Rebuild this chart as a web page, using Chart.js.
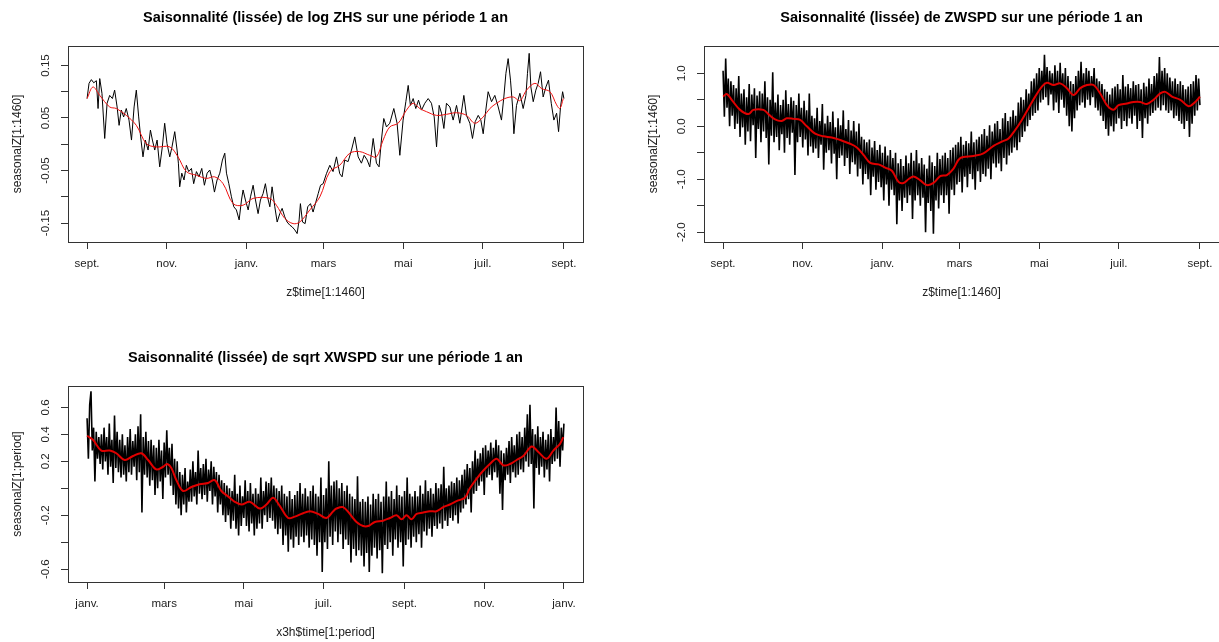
<!DOCTYPE html>
<html lang="fr">
<head>
<meta charset="utf-8">
<title>Saisonnalité lissée</title>
<script src="https://cdn.jsdelivr.net/npm/chart.js@4.4.1/dist/chart.umd.min.js"></script>
<style>
  html, body { margin: 0; padding: 0; background: #fff; overflow: hidden; width: 1219px; height: 642px; }
  canvas { position: absolute; }
  #zhs-chart   { left: 0;     top: 0; }
  #zwspd-chart { left: 636px; top: 0; }
  #xwspd-chart { left: 0;     top: 340px; }
</style>
</head>
<body>
<canvas id="zhs-chart" width="609" height="321"></canvas>
<canvas id="zwspd-chart" width="609" height="321"></canvas>
<canvas id="xwspd-chart" width="609" height="321"></canvas>

<script>
// ----------------------------------------------------------------
// Data — x is the day of the seasonal year (0 … 365)
// ----------------------------------------------------------------

// Month ticks, year starting in September (top row)
const septMonthDays   = [0, 61, 122, 181, 242, 303, 365];
const septMonthLabels = ["sept.", "nov.", "janv.", "mars", "mai", "juil.", "sept."];

// Month ticks, calendar year (bottom panel)
const janvMonthDays   = [0, 59, 120, 181, 243, 304, 365];
const janvMonthLabels = ["janv.", "mars", "mai", "juil.", "sept.", "nov.", "janv."];

// y ticks (R only printed every other label where they would collide)
const zhsTicks        = [-0.15, -0.10, -0.05, 0, 0.05, 0.10, 0.15];
const zhsTickLabels   = ["-0.15", "", "-0.05", "", "0.05", "", "0.15"];
const zwspdTicks      = [-2, -1.5, -1, -0.5, 0, 0.5, 1];
const zwspdTickLabels = ["-2.0", "", "-1.0", "", "0.0", "", "1.0"];
const xwspdTicks      = [-0.6, -0.4, -0.2, 0, 0.2, 0.4, 0.6];
const xwspdTickLabels = ["-0.6", "", "-0.2", "", "0.2", "0.4", "0.6"];

// log ZHS seasonal component: [day, value]
const zhsRaw = [
  [0,0.087],[1.5,0.116],[3.3,0.123],[5.1,0.117],[7.1,0.121],[8.4,0.068],[9.7,0.125],[11.4,0.097],[13.5,0.011],[15.3,0.078],
  [17.3,0.093],[19.4,0.087],[21.1,0.103],[23,0.071],[24.5,0.036],[26.2,0.065],[28,0.052],[30,0.068],[32.1,0.046],[34,0.008],
  [36,0.071],[37.7,0.103],[39.5,0.052],[41,0.014],[42.8,-0.024],[44.6,0.008],[46.7,-0.011],[48.5,0.027],[50,0.008],[51.8,-0.011],
  [53.6,0.008],[55.6,-0.043],[57.6,-0.005],[59.4,0.040],[61.2,0.001],[63.3,-0.024],[65,-0.005],[67.1,0.024],[68.9,-0.011],[69.9,-0.036],
  [70.9,-0.081],[72.5,-0.055],[74.2,-0.068],[76,-0.040],[77.8,-0.052],[79.9,-0.046],[81.6,-0.075],[83.7,-0.052],[85.7,-0.062],[87.8,-0.046],
  [89.8,-0.078],[91.9,-0.055],[93.9,-0.049],[95.9,-0.068],[97.5,-0.091],[99.5,-0.068],[101.6,-0.055],[103.6,-0.030],[105.4,-0.017],[106.7,-0.055],
  [108.5,-0.075],[110.5,-0.100],[112.3,-0.119],[114.3,-0.125],[116.4,-0.144],[118.2,-0.106],[119.4,-0.087],[121.2,-0.106],[123.3,-0.125],[125.1,-0.100],
  [127.1,-0.078],[128.9,-0.106],[130.9,-0.132],[132.7,-0.106],[134.7,-0.094],[136.5,-0.075],[138.1,-0.100],[139.9,-0.119],[141.6,-0.081],[143.7,-0.119],
  [145.5,-0.148],[147.5,-0.132],[149.3,-0.122],[151.3,-0.138],[153.1,-0.148],[155.2,-0.154],[156.9,-0.157],[159,-0.163],[160.8,-0.170],[162.3,-0.144],
  [163.3,-0.113],[164.9,-0.148],[166.9,-0.151],[168.9,-0.119],[171,-0.113],[173,-0.129],[175.1,-0.110],[176.9,-0.094],[178.7,-0.078],[180.7,-0.075],
  [183.2,-0.056],[185.8,-0.040],[188.3,-0.052],[190.9,-0.024],[193.4,-0.056],[195.2,-0.062],[197.2,-0.030],[199.8,-0.033],[202.4,-0.011],[204.9,0.014],
  [207.5,-0.024],[210,-0.036],[212.1,-0.021],[214.4,-0.030],[216.4,-0.043],[219,0.011],[221.5,-0.036],[223.5,-0.043],[225.3,0.008],[227.1,0.049],
  [229.2,0.033],[231.7,0.040],[234.8,0.068],[237.3,0.040],[239.4,-0.021],[241.9,0.046],[244,0.081],[245.8,0.112],[247.5,0.074],[249.6,0.087],
  [251.6,0.068],[253.7,0.084],[256,0.065],[258.5,0.078],[261.1,0.087],[263.6,0.078],[265.7,0.052],[267.5,-0.005],[269.5,0.074],[271.3,0.059],
  [273.1,0.030],[275.1,0.078],[277.7,0.071],[280.2,0.046],[282.8,0.074],[285.3,0.040],[288.4,0.093],[290.4,0.055],[293,0.040],[295,0.011],
  [297.1,0.043],[299.4,0.055],[301.4,0.046],[303.2,0.020],[305.2,0.065],[307,0.100],[309.6,0.081],[312.1,0.093],[314.7,0.071],[317.2,0.046],
  [319,0.090],[320.6,0.135],[322.3,0.163],[324.1,0.122],[325.7,0.071],[326.7,0.020],[328.7,0.074],[331.3,0.097],[333.8,0.068],[335.9,0.093],
  [337.1,0.135],[338.4,0.173],[339.7,0.109],[341.5,0.081],[343.5,0.103],[345.3,0.116],[347.1,0.138],[349.1,0.090],[351.2,0.109],[353.2,0.122],
  [355.3,0.078],[357.3,0.046],[359.4,0.059],[360.9,0.024],[362.4,0.071],[364,0.100],[365,0.087]
];

// log ZHS smoothed
const zhsSmooth = [
  [0,0.087],[4.5,0.109],[9.7,0.093],[17.3,0.071],[22.4,0.068],[30,0.055],[37.7,0.036],[45.4,0.001],[53,-0.005],[63.3,-0.005],
  [69.6,-0.024],[76,-0.052],[83.7,-0.059],[91.3,-0.065],[97.7,-0.062],[104.1,-0.075],[111.8,-0.113],[119.4,-0.116],[127.1,-0.103],[139.9,-0.103],
  [144.9,-0.116],[151.3,-0.141],[157.7,-0.151],[162.8,-0.148],[170.5,-0.125],[178.2,-0.100],[185.8,-0.052],[193.4,-0.040],[201.1,-0.017],[208.7,-0.014],
  [216.4,-0.021],[221.5,-0.024],[226.6,0.008],[231.7,0.033],[238.1,0.040],[244.5,0.065],[249.6,0.078],[254.7,0.068],[259.8,0.062],[267.5,0.055],
  [275.1,0.057],[282.8,0.060],[290.4,0.055],[296.8,0.040],[303.2,0.052],[308.3,0.068],[313.4,0.078],[319.8,0.087],[326.2,0.090],[331.3,0.083],
  [336.4,0.103],[342.8,0.116],[347.9,0.106],[354.3,0.100],[359.4,0.075],[361.9,0.068],[364.5,0.087]
];

// ZWSPD seasonal component, one value per day
const zwspdDaily = [
  1.05,0.18,1.28,0.35,0.9,0.0,0.85,0.2,0.78,-0.05,
  0.72,0.05,0.95,-0.2,0.62,-0.02,0.7,-0.35,0.55,-0.1,
  0.8,-0.28,0.6,0.02,0.72,-0.6,0.58,-0.05,0.66,-0.3,
  0.62,-0.1,0.85,-0.22,0.55,-0.72,0.5,-0.18,1.02,-0.3,
  0.45,-0.2,0.6,-0.45,0.4,-0.15,0.5,-0.5,0.68,-0.22,
  0.42,-0.35,0.55,-0.12,0.48,-0.92,0.4,-0.3,0.62,-0.2,
  0.35,-0.4,0.48,-0.25,0.3,-0.55,0.62,-0.38,0.2,-0.5,
  0.15,-0.42,0.35,-0.6,0.1,-0.35,0.42,-0.82,0.05,-0.5,
  0.2,-0.45,0.08,-0.7,0.28,-0.52,-0.02,-1.0,0.15,-0.6,
  0.02,-0.55,0.3,-0.75,-0.05,-0.6,0.12,-0.9,-0.08,-0.68,
  0.1,-0.72,-0.1,-0.95,0.05,-0.8,-0.2,-1.1,-0.25,-0.9,
  -0.3,-1.0,-0.25,-1.3,-0.4,-0.95,-0.28,-1.2,-0.45,-1.05,
  -0.35,-1.15,-0.5,-1.4,-0.38,-1.1,-0.55,-1.5,-0.45,-1.2,
  -0.6,-1.3,-0.5,-1.85,-0.7,-1.4,-0.62,-1.6,-0.75,-1.35,
  -0.55,-1.45,-0.7,-1.3,-0.5,-1.75,-0.65,-1.4,-0.45,-1.3,
  -0.7,-1.5,-0.6,-1.35,-0.72,-2.0,-0.8,-1.45,-0.55,-1.6,
  -0.68,-2.03,-0.75,-1.4,-0.5,-1.55,-0.62,-1.3,-0.55,-1.45,
  -0.5,-1.3,-0.6,-1.65,-0.45,-1.2,-0.4,-1.3,-0.35,-1.1,
  -0.3,-1.05,-0.2,-1.25,-0.35,-0.95,-0.28,-1.15,-0.32,-0.9,
  -0.1,-1.0,-0.3,-1.2,-0.25,-0.85,-0.2,-1.05,-0.15,-0.9,
  -0.05,-0.95,-0.18,-0.8,0.02,-1.0,-0.1,-0.7,0.05,-0.78,
  0.1,-0.7,-0.05,-0.85,0.15,-0.6,0.25,-0.72,0.1,-0.55,
  0.18,-0.5,0.3,-0.4,0.2,-0.45,0.45,-0.3,0.55,-0.2,
  0.5,-0.1,0.7,0.0,0.62,0.12,0.85,0.2,0.9,0.25,
  1.0,0.3,1.1,0.45,1.05,0.5,1.35,0.55,1.12,0.4,
  1.05,0.6,1.0,0.3,1.15,0.45,1.05,0.25,1.2,0.5,
  1.0,0.35,1.1,0.2,0.95,0.0,0.85,-0.1,0.8,0.15,
  0.95,0.3,1.05,0.4,1.22,0.45,1.0,0.35,1.1,0.5,
  1.05,0.4,0.95,0.55,1.1,0.35,0.9,0.3,0.85,0.2,
  0.8,0.1,0.7,-0.05,0.65,-0.18,0.6,0.0,0.72,-0.1,
  0.75,0.05,0.8,0.15,0.7,-0.05,0.97,0.1,0.75,0.0,
  0.8,0.15,0.72,0.05,0.85,0.2,0.78,-0.05,0.8,0.1,
  0.7,-0.22,0.82,0.15,0.75,0.05,0.9,0.2,0.8,0.25,
  0.95,0.3,1.0,0.35,1.31,0.3,1.05,0.4,1.1,0.3,
  1.0,0.25,0.92,0.3,0.85,0.15,0.9,0.2,0.8,0.1,
  0.85,0.05,0.78,-0.05,0.7,0.1,0.75,-0.2,0.8,0.05,
  0.85,0.2,0.97,0.3,0.9,0.4
];

// ZWSPD smoothed
const zwspdSmooth = [
  [0,0.56],[2.8,0.61],[6.6,0.5],[13,0.31],[19.4,0.23],[23.2,0.31],[30.9,0.31],[34.7,0.23],[39.8,0.13],[44.9,0.1],
  [48.8,0.15],[53.9,0.14],[59,0.12],[64.1,0.0],[70.5,-0.14],[76.8,-0.19],[83.2,-0.21],[89.6,-0.26],[97.3,-0.33],[102.4,-0.4],
  [107.5,-0.54],[112.6,-0.69],[119,-0.72],[124.1,-0.78],[129.2,-0.84],[134.3,-1.05],[138.1,-1.07],[141.9,-1.0],[145.8,-0.95],[150.9,-1.02],
  [156,-1.11],[161.1,-1.07],[166.2,-0.94],[171.3,-0.92],[176.4,-0.8],[181.5,-0.6],[191.7,-0.56],[199.3,-0.51],[207,-0.37],[213.4,-0.29],
  [218.5,-0.23],[223.6,-0.07],[228.7,0.12],[233.8,0.34],[238.9,0.56],[244,0.75],[247.8,0.82],[253,0.78],[258,0.81],[263.2,0.72],
  [268.3,0.59],[273.4,0.72],[278.5,0.78],[283.6,0.78],[288.7,0.62],[293.8,0.4],[298.9,0.31],[302.7,0.4],[309.1,0.43],[314.2,0.46],
  [319.3,0.46],[324.4,0.42],[329.5,0.5],[334.6,0.62],[338.5,0.65],[343.6,0.56],[350,0.5],[356.3,0.38],[361.4,0.46],[365,0.56]
];

// sqrt XWSPD seasonal component, one value per day
const xwspdDaily = [
  0.52,0.22,0.62,0.72,0.28,0.45,0.05,0.42,0.22,0.38,
  0.18,0.4,0.14,0.45,0.2,0.38,0.1,0.48,0.16,0.36,
  0.04,0.54,0.15,0.42,0.12,0.36,0.08,0.4,0.1,0.32,
  0.05,0.38,0.12,0.44,0.1,0.35,0.16,0.4,0.06,0.46,
  0.12,0.55,-0.18,0.38,0.1,0.42,0.08,0.35,0.02,0.36,
  0.06,0.32,-0.05,0.3,0.0,0.36,0.05,0.28,-0.08,0.34,
  0.08,0.43,0.1,0.3,0.02,0.33,-0.05,0.22,-0.12,0.2,
  -0.15,0.12,-0.2,0.1,-0.12,0.15,-0.18,0.05,-0.1,0.14,
  -0.1,0.2,-0.06,0.12,-0.12,0.28,-0.04,0.15,-0.08,0.18,
  -0.05,0.22,-0.1,0.14,-0.02,0.2,-0.12,0.16,-0.06,0.12,
  -0.18,0.1,-0.12,0.06,-0.2,0.04,-0.25,0.02,-0.2,0.0,
  -0.3,-0.02,-0.24,0.1,-0.3,-0.04,-0.35,0.02,-0.28,-0.06,
  -0.22,0.06,-0.28,-0.02,-0.32,0.04,-0.26,-0.04,-0.35,0.0,
  -0.3,-0.04,-0.26,0.08,-0.3,-0.02,-0.2,0.05,-0.25,0.04,
  -0.22,0.08,-0.24,0.02,-0.3,0.0,-0.34,-0.02,-0.3,0.02,
  -0.42,-0.04,-0.35,-0.06,-0.47,-0.02,-0.38,-0.08,-0.44,-0.05,
  -0.36,-0.02,-0.42,0.04,-0.36,-0.04,-0.4,0.0,-0.35,-0.06,
  -0.44,-0.02,-0.38,0.02,-0.42,-0.04,-0.5,-0.06,-0.4,0.08,
  -0.62,-0.05,-0.4,0.0,-0.45,0.2,-0.36,0.02,-0.42,0.05,
  -0.32,0.06,-0.4,0.0,-0.34,0.04,-0.45,-0.02,-0.38,0.02,
  -0.42,-0.04,-0.55,-0.06,-0.45,-0.08,-0.5,0.09,-0.46,-0.1,
  -0.5,-0.08,-0.58,-0.1,-0.48,-0.06,-0.62,-0.12,-0.5,-0.04,
  -0.44,-0.08,-0.52,-0.04,-0.46,-0.1,-0.63,-0.06,-0.42,0.05,
  -0.45,-0.06,-0.4,-0.02,-0.5,-0.08,-0.38,0.02,-0.44,-0.05,
  -0.4,-0.06,-0.58,-0.02,-0.42,0.08,-0.38,-0.04,-0.44,-0.06,
  -0.36,-0.02,-0.4,-0.06,-0.34,0.02,-0.44,-0.04,-0.32,0.06,
  -0.35,-0.02,-0.3,0.0,-0.36,-0.04,-0.28,0.04,-0.3,0.0,
  -0.26,0.03,-0.3,0.16,-0.24,0.0,-0.28,0.02,-0.22,0.05,
  -0.24,0.04,-0.2,0.08,-0.26,0.06,-0.18,0.1,-0.15,0.14,
  -0.12,0.18,-0.08,0.15,-0.18,0.2,-0.04,0.28,-0.02,0.22,
  0.02,0.26,0.05,0.3,-0.05,0.32,0.08,0.28,0.1,0.34,
  0.06,0.3,0.12,0.36,0.08,0.32,-0.04,0.28,-0.16,0.26,
  0.06,0.3,0.1,0.35,0.04,0.38,0.12,0.32,0.08,0.4,
  0.1,0.42,0.14,0.38,0.12,0.45,0.2,0.55,0.16,0.62,
  0.18,0.44,-0.15,0.4,0.15,0.46,0.1,0.38,0.16,0.42,
  0.08,0.36,0.14,0.4,0.05,0.44,0.18,0.38,0.2,0.6,
  0.22,0.5,0.16,0.45,0.28,0.48
];

// sqrt XWSPD smoothed
const xwspdSmooth = [
  [0,0.39],[4.5,0.36],[10.9,0.28],[17.3,0.28],[22.4,0.26],[28.8,0.21],[35.2,0.24],[41.6,0.26],[46.7,0.21],[53,0.14],
  [58.2,0.16],[61.2,0.18],[64.5,0.15],[68.4,0.06],[73.5,-0.02],[79.9,0.01],[86.2,0.03],[92.6,0.04],[97.7,0.06],[102.8,-0.02],
  [107.9,-0.06],[113,-0.1],[118.2,-0.12],[124.5,-0.1],[132.2,-0.15],[137.3,-0.12],[142.4,-0.07],[147.5,-0.13],[153.9,-0.22],[159,-0.21],
  [164.1,-0.19],[170.5,-0.17],[176.9,-0.19],[183.2,-0.22],[188.4,-0.17],[190.9,-0.15],[196,-0.14],[201.1,-0.19],[206.2,-0.25],[211.3,-0.28],
  [215.2,-0.28],[220.3,-0.25],[226.6,-0.24],[231.8,-0.22],[236.9,-0.2],[240.7,-0.23],[244.5,-0.2],[248.4,-0.23],[252.2,-0.19],[257.3,-0.18],
  [262.4,-0.17],[267.5,-0.17],[272.6,-0.14],[277.7,-0.12],[284.1,-0.09],[289.2,-0.07],[293,0.0],[298.1,0.07],[303.2,0.13],[308.3,0.18],
  [313.5,0.22],[318.6,0.17],[323.7,0.18],[328.8,0.21],[333.9,0.24],[340.3,0.31],[345.4,0.27],[351.7,0.22],[356.9,0.28],[362,0.33],[364.5,0.38]
];


// ----------------------------------------------------------------
// Drawing helpers
// ----------------------------------------------------------------

const FONT = "'Liberation Sans', Arial, Helvetica, sans-serif";
const INK = "#222";

// R-style closed box around the plotting region
const plotBox = {
  id: "plotBox",
  afterDraw(chart) {
    const { ctx, chartArea: a } = chart;
    ctx.save();
    ctx.strokeStyle = "#333";
    ctx.lineWidth = 1;
    ctx.strokeRect(Math.round(a.left) + 0.5, Math.round(a.top) + 0.5,
                   Math.round(a.right - a.left), Math.round(a.bottom - a.top));
    ctx.restore();
  },
};

const fromPairs = (pairs) => pairs.map(([x, y]) => ({ x, y }));
const fromDaily = (values) => values.map((y, i) => ({ x: i, y }));

function drawPanel(canvasId, p) {
  return new Chart(document.getElementById(canvasId), {
    type: "line",
    data: {
      datasets: [
        // lower `order` is painted last, so the smoothed curve sits on top
        {
          data: p.raw,
          order: 2,
          borderColor: "#000",
          borderWidth: p.rawWidth,
          pointRadius: 0,
          tension: 0,
        },
        {
          data: p.smooth,
          order: 1,
          borderColor: p.smoothColor,
          borderWidth: p.smoothWidth,
          pointRadius: 0,
          tension: 0.35,
        },
      ],
    },
    options: {
      responsive: false,
      animation: false,
      devicePixelRatio: 1,
      events: [],
      layout: { padding: { left: 0, right: 26, top: 0, bottom: 0 } },
      plugins: {
        legend: { display: false },
        tooltip: { enabled: false },
        title: {
          display: true,
          fullSize: false,
          text: p.title,
          color: "#000",
          font: { family: FONT, size: 14.5, weight: "bold" },
          padding: { top: 9.3, bottom: 19.3 },
        },
      },
      scales: {
        x: {
          type: "linear",
          min: -14.6,
          max: 379.6,
          afterBuildTicks: (s) => { s.ticks = p.xTicks.map((v) => ({ value: v })); },
          afterFit: (s) => { s.height = 79; },
          ticks: {
            autoSkip: false,
            minRotation: 0,
            maxRotation: 0,
            padding: 8,
            color: INK,
            font: { family: FONT, size: 11.5 },
            callback: (v, i) => p.xTickLabels[i],
          },
          grid: { drawOnChartArea: false, tickLength: 7, color: "#333" },
          border: { display: false },
          title: {
            display: true,
            text: p.xTitle,
            color: INK,
            font: { family: FONT, size: 12 },
            padding: { top: 0, bottom: 20.8 },
          },
        },
        y: {
          type: "linear",
          min: p.yMin,
          max: p.yMax,
          afterBuildTicks: (s) => { s.ticks = p.yTicks.map((v) => ({ value: v })); },
          afterFit: (s) => { s.width = 68; },
          ticks: {
            autoSkip: false,
            minRotation: 90,
            maxRotation: 90,
            crossAlign: "center",
            padding: p.yTickPad,
            color: INK,
            font: { family: FONT, size: 11.5 },
            callback: (v, i) => p.yTickLabels[i],
          },
          grid: { drawOnChartArea: false, tickLength: 7, color: "#333" },
          border: { display: false },
          title: {
            display: true,
            text: p.yTitle,
            color: INK,
            font: { family: FONT, size: 12 },
            padding: { top: 10.8, bottom: 0 },
          },
        },
      },
    },
    plugins: [plotBox],
  });
}


// ----------------------------------------------------------------
// The three panels
// ----------------------------------------------------------------

drawPanel("zhs-chart", {
  title: "Saisonnalité (lissée) de log ZHS sur une période 1 an",
  xTitle: "z$time[1:1460]",
  yTitle: "seasonalZ[1:1460]",
  raw: fromPairs(zhsRaw),
  rawWidth: 1,
  smooth: fromPairs(zhsSmooth),
  smoothColor: "#ee1111",
  smoothWidth: 1,
  yMin: -0.186, yMax: 0.187,
  yTicks: zhsTicks, yTickLabels: zhsTickLabels, yTickPad: 2.5,
  xTicks: septMonthDays, xTickLabels: septMonthLabels,
});

drawPanel("zwspd-chart", {
  title: "Saisonnalité (lissée) de ZWSPD sur une période 1 an",
  xTitle: "z$time[1:1460]",
  yTitle: "seasonalZ[1:1460]",
  raw: fromDaily(zwspdDaily),
  rawWidth: 1.6,
  smooth: fromPairs(zwspdSmooth),
  smoothColor: "#e00000",
  smoothWidth: 2,
  yMin: -2.185, yMax: 1.516,
  yTicks: zwspdTicks, yTickLabels: zwspdTickLabels, yTickPad: 5.5,
  xTicks: septMonthDays, xTickLabels: septMonthLabels,
});

drawPanel("xwspd-chart", {
  title: "Saisonnalité (lissée) de sqrt XWSPD sur une période 1 an",
  xTitle: "x3h$time[1:period]",
  yTitle: "seasonalZ[1:period]",
  raw: fromDaily(xwspdDaily),
  rawWidth: 1.6,
  smooth: fromPairs(xwspdSmooth),
  smoothColor: "#e00000",
  smoothWidth: 2,
  yMin: -0.695, yMax: 0.759,
  yTicks: xwspdTicks, yTickLabels: xwspdTickLabels, yTickPad: 5.5,
  xTicks: janvMonthDays, xTickLabels: janvMonthLabels,
});
</script>
</body>
</html>
